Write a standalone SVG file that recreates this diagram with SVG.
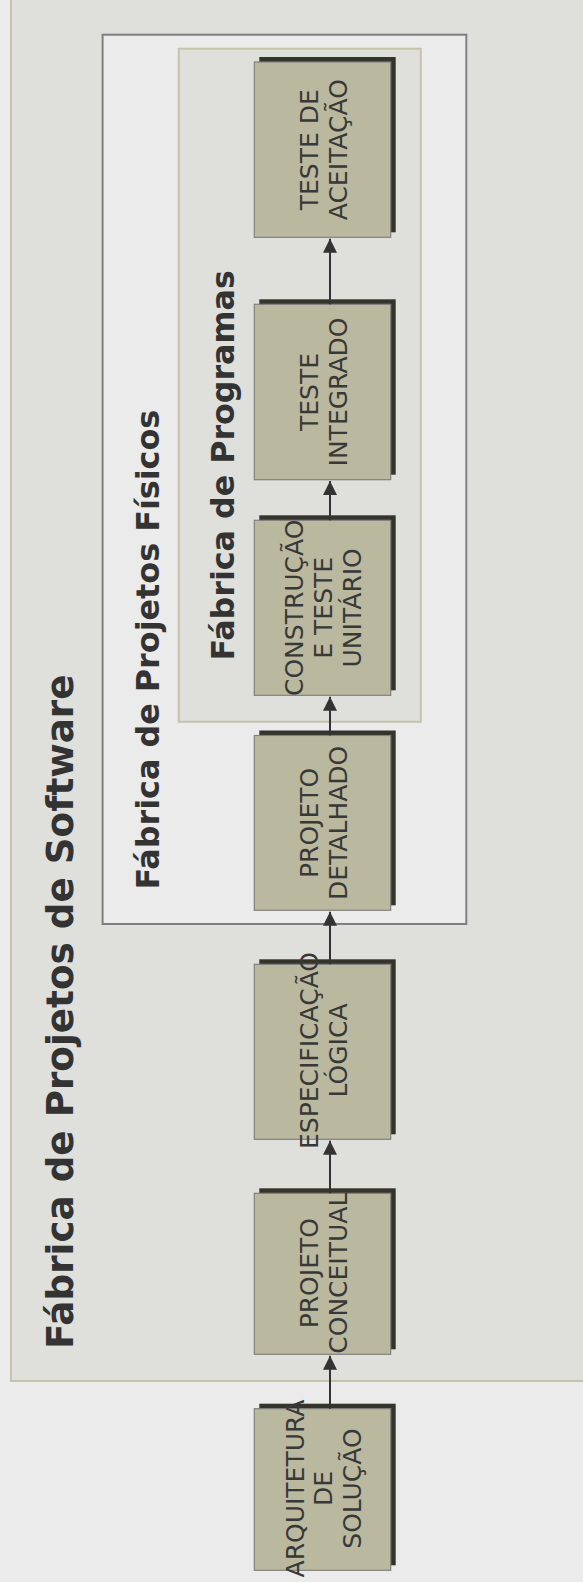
<svg xmlns="http://www.w3.org/2000/svg" width="583" height="1582" viewBox="0 0 583 1582">
<defs>
<style>
.node-bg{fill:#34342a;}
.node{fill:#bab99f;stroke:#808080;stroke-width:1.2;}
.lbl{font-family:"DejaVu Sans",Verdana,sans-serif;font-size:25px;fill:#383838;text-anchor:middle;}
.title{font-family:"DejaVu Sans",Verdana,sans-serif;font-weight:bold;fill:#333333;text-anchor:middle;}
.conn{stroke:#333333;stroke-width:2;fill:none;marker-end:url(#arr);}
</style>
<marker id="arr" viewBox="0 0 14 14" refX="14" refY="7" markerWidth="14" markerHeight="14" markerUnits="userSpaceOnUse" orient="auto">
<path d="M0,0 L14,7 L0,14 Z" fill="#333333"/>
</marker>
</defs>
<rect x="0" y="0" width="583" height="1582" fill="#ebebeb"/>

<g id="fabrica-software">
<rect x="11" y="-10" width="600" height="1391" fill="#dfdfdc" stroke="#c4c4ac" stroke-width="2"/>
<text class="title" font-size="37.3" x="73.3" y="1011.7" transform="rotate(-90 73.3 1011.7)">Fábrica de Projetos de Software</text>
</g>

<g id="fabrica-fisicos">
<rect x="102.6" y="34.7" width="363.7" height="889.3" fill="#ebebeb" stroke="#7f7f7f" stroke-width="2"/>
<text class="title" font-size="31.8" x="159" y="649.7" transform="rotate(-90 159 649.7)">Fábrica de Projetos Físicos</text>
</g>

<g id="fabrica-programas">
<rect x="178.8" y="48.7" width="242" height="673.1" fill="#dfdfdc" stroke="#c4c4ac" stroke-width="2"/>
<text class="title" font-size="31.7" x="234.5" y="465.4" transform="rotate(-90 234.5 465.4)">Fábrica de Programas</text>
</g>

<g id="teste-aceitacao">
<rect class="node-bg" x="259.3" y="57" width="136.4" height="175.3"/>
<rect class="node" x="254.3" y="62" width="136.4" height="175.3"/>
<text class="lbl" transform="rotate(-90 322.5 149.7)"><tspan x="322.5" y="145.1">TESTE DE</tspan><tspan x="322.5" y="173.8">ACEITAÇÃO</tspan></text>
</g>

<g id="teste-integrado">
<rect class="node-bg" x="259.3" y="299.3" width="136.4" height="175.4"/>
<rect class="node" x="254.3" y="304.3" width="136.4" height="175.4"/>
<text class="lbl" transform="rotate(-90 322.5 392)"><tspan x="322.5" y="387.4">TESTE</tspan><tspan x="322.5" y="416.1">INTEGRADO</tspan></text>
</g>

<g id="construcao">
<rect class="node-bg" x="259.3" y="515.3" width="136.4" height="175"/>
<rect class="node" x="254.3" y="520.3" width="136.4" height="175"/>
<text class="lbl" transform="rotate(-90 322.5 607.8)"><tspan x="322.5" y="588.8">CONSTRUÇÃO</tspan><tspan x="322.5" y="617.6">E TESTE</tspan><tspan x="322.5" y="646.4">UNITÁRIO</tspan></text>
</g>

<g id="projeto-detalhado">
<rect class="node-bg" x="259.3" y="730.5" width="136.4" height="174.8"/>
<rect class="node" x="254.3" y="735.5" width="136.4" height="174.8"/>
<text class="lbl" transform="rotate(-90 322.5 822.9)"><tspan x="322.5" y="818.3">PROJETO</tspan><tspan x="322.5" y="847">DETALHADO</tspan></text>
</g>

<g id="especificacao-logica">
<rect class="node-bg" x="259.3" y="959.3" width="136.4" height="175"/>
<rect class="node" x="254.3" y="964.3" width="136.4" height="175"/>
<text class="lbl" transform="rotate(-90 322.5 1050.5)"><tspan x="322.5" y="1045.9">ESPECIFICAÇÃO</tspan><tspan x="322.5" y="1074.6">LÓGICA</tspan></text>
</g>

<g id="projeto-conceitual">
<rect class="node-bg" x="259.3" y="1188.3" width="136.4" height="161"/>
<rect class="node" x="254.3" y="1193.3" width="136.4" height="161"/>
<text class="lbl" transform="rotate(-90 322.5 1273.2)"><tspan x="322.5" y="1268.6">PROJETO</tspan><tspan x="322.5" y="1297.3">CONCEITUAL</tspan></text>
</g>

<g id="arquitetura-solucao">
<rect class="node-bg" x="259.3" y="1403.7" width="136.4" height="161.6"/>
<rect class="node" x="254.3" y="1408.7" width="136.4" height="161.6"/>
<text class="lbl" transform="rotate(-90 322.5 1488.5)"><tspan x="322.5" y="1469.5">ARQUITETURA</tspan><tspan x="322.5" y="1498.3">DE</tspan><tspan x="322.5" y="1527.1">SOLUÇÃO</tspan></text>
</g>

<g id="connectors">
<line class="conn" x1="330" y1="1408.7" x2="330" y2="1355.7"/>
<line class="conn" x1="330" y1="1193.3" x2="330" y2="1140.7"/>
<line class="conn" x1="330" y1="964.3" x2="330" y2="911.7"/>
<line class="conn" x1="330" y1="735.5" x2="330" y2="696.7"/>
<line class="conn" x1="330" y1="520.3" x2="330" y2="481"/>
<line class="conn" x1="330" y1="304.3" x2="330" y2="238.7"/>
</g>
</svg>
